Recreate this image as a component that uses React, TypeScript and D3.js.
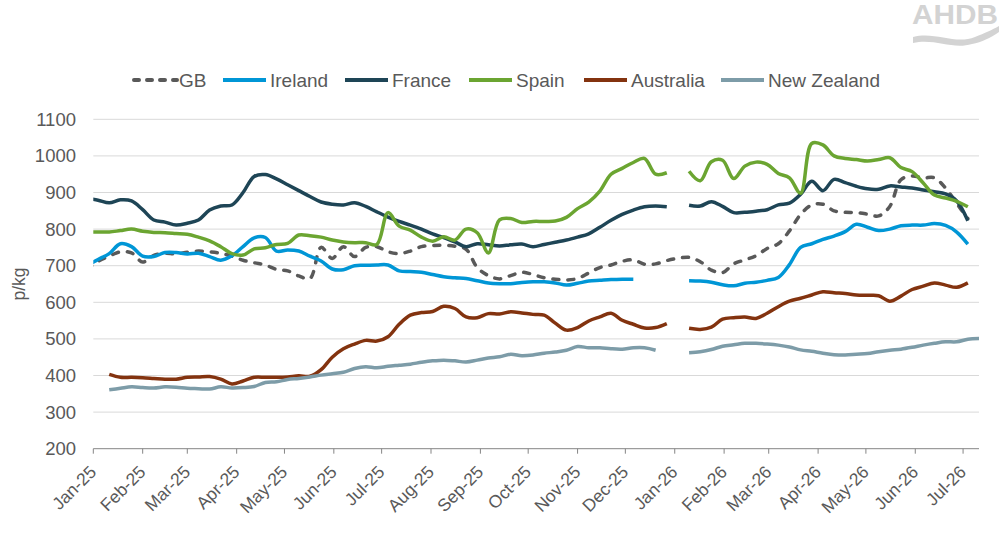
import React from "react";
import * as d3 from "d3";

// weekly price series, p/kg; index 0 is the week of 28 Dec 2024, null = no quote
const gb = [
  690, 712, 726, 738, 735, 710, 728, 734, 732, 737, 740, 738, 734, 726, 715, 708, 702, 690, 686, 672,
  665, 750, 720, 752, 725, 750, 752, 738, 733, 740, 752, 755, 756, 753, 745, 695, 673, 664, 673, 682,
  676, 667, 663, 661, 665, 680, 695, 702, 712, 716, 704, 705, 714, 720, 723, 711, 688, 681, 705, 716,
  727, 747, 760, 795, 840, 866, 868, 850, 846, 845, 841, 836, 862, 935, 945, 940, 940, 912, 870, 829,
  null,
];
const ireland = [
  700, 717, 733, 760, 752, 726, 725, 736, 736, 732, 734, 725, 715, 727, 752, 776, 777, 740, 743, 740,
  726, 713, 691, 689, 700, 701, 702, 702, 686, 684, 682, 676, 670, 667, 665, 659, 653, 651, 651, 654,
  656, 656, 653, 647, 652, 658, 660, 662, 663, 663, null, null, null, null, 659, 658, 655, 648, 645, 652,
  655, 660, 668, 703, 750, 760, 772, 781, 793, 813, 805, 796, 800, 809, 811, 811, 815, 810, 792, 759,
  null,
];
const france = [
  884, 879, 872, 880, 877, 853, 825, 819, 811, 816, 825, 852, 863, 866, 900, 944, 949, 937, 921, 905,
  889, 874, 868, 866, 872, 862, 847, 833, 821, 811, 800, 787, 777, 765, 752, 760, 757, 754, 757, 759,
  752, 758, 764, 770, 778, 787, 805, 824, 840, 852, 861, 863, 861, null, 865, 863, 875, 862, 845, 846,
  849, 853, 866, 871, 895, 931, 905, 936, 927, 917, 910, 909, 918, 915, 912, 907, 902, 896, 877, 823,
  null,
];
const spain = [
  792, 792, 792, 796, 800, 794, 791, 790, 788, 786, 778, 768, 752, 733, 729, 746, 749, 758, 761, 784,
  782, 778, 770, 765, 763, 763, 758, 845, 808, 797, 778, 767, 779, 770, 800, 790, 735, 825, 829, 818,
  821, 821, 822, 832, 856, 874, 904, 950, 966, 982, 993, 950, 954, null, 958, 932, 984, 988, 938, 972,
  983, 977, 952, 940, 898, 1034, 1030, 1000, 993, 990, 986, 990, 995, 968, 957, 926, 893, 885, 876, 861,
  null,
];
const australia = [
  null, null, 403, 395, 395, 394, 392, 390, 390, 395, 396, 397, 390, 377, 385, 395, 395, 395, 396, 399,
  398, 416, 450, 473, 486, 496, 494, 506, 540, 565, 572, 575, 589, 583, 560, 558, 569, 568, 574, 571,
  567, 565, 543, 524, 531, 549, 560, 570, 551, 540, 530, 531, 542, null, 529, 526, 532, 554, 558, 560,
  556, 570, 588, 603, 611, 620, 629, 626, 624, 620, 619, 618, 603, 617, 635, 644, 653, 647, 641, 653,
  null,
];
const newZealand = [
  null, null, 361, 365, 369, 367, 366, 369, 368, 365, 364, 363, 369, 366, 367, 370, 381, 383, 389, 392,
  396, 401, 405, 409, 419, 424, 421, 425, 428, 431, 436, 440, 442, 440, 437, 442, 448, 451, 458, 454,
  456, 461, 464, 469, 479, 476, 476, 473, 472, 476, 476, 469, null, null, 462, 465, 471, 480, 484, 488,
  488, 486, 483, 478, 470, 466, 461, 457, 456, 458, 460, 465, 469, 472, 477, 483, 488, 492, 492, 499,
  501,
];

const yTicks = [200, 300, 400, 500, 600, 700, 800, 900, 1000, 1100];

const weeks = d3.range(-1, 80).map((i) => d3.timeDay.offset(new Date(2025, 0, 4), 7 * i));
const monthTicks = d3.timeMonth.range(new Date(2025, 0, 1), new Date(2026, 6, 2));

const series = [
  { name: "GB", values: gb, color: "#595959", dash: "6 9" },
  { name: "Ireland", values: ireland, color: "#0096d6", dash: null },
  { name: "France", values: france, color: "#1e4556", dash: null },
  { name: "Spain", values: spain, color: "#6ba531", dash: null },
  { name: "Australia", values: australia, color: "#83330f", dash: null },
  { name: "New Zealand", values: newZealand, color: "#7d9ca8", dash: null },
];

const W = 1004;
const H = 557;
const left = 93.3;
const right = 979;
const top = 119.3;
const bottom = 448.7;
const legendX = [132, 223, 345, 469, 584, 721];
const textColor = "#595959";
const font = "'Liberation Sans', Arial, sans-serif";

const App = () => {
  const x = d3
    .scaleTime()
    .domain([new Date(2025, 0, 1), new Date(2026, 6, 11)])
    .range([left, right]);
  const y = d3.scaleLinear().domain([200, 1100]).range([bottom, top]);
  const fmt = d3.timeFormat("%b-%y");

  const line = d3
    .line<number | null>()
    .defined((v) => v != null)
    .x((_, i) => x(weeks[i]))
    .y((v) => y(v as number))
    .curve(d3.curveCatmullRom.alpha(0.5));

  return (
    <svg
      width={W}
      height={H}
      style={{ position: "absolute", left: 0, top: 0, background: "#fff" }}
      fontFamily={font}
    >
      <defs>
        <clipPath id="plot">
          <rect x={left} y={90} width={right - left} height={380} />
        </clipPath>
      </defs>

      {/* logo */}
      <g fill="#d3d3d3">
        <text
          x={912}
          y={24}
          fontSize={27}
          fontWeight="bold"
          textLength={86}
          lengthAdjust="spacingAndGlyphs"
        >
          AHDB
        </text>
        <path d="M913,37 C935,31 955,45 975,37 C985,33 992,30 999,26 L999,32 C990,38 982,42 972,44 C952,50 935,38 913,43 Z" />
      </g>

      {/* legend */}
      {series.map((s, i) => (
        <g key={s.name} transform={`translate(${legendX[i]},80)`}>
          <line
            x1={0}
            x2={43}
            stroke={s.color}
            strokeWidth={4}
            strokeDasharray={s.dash ? "5 8" : undefined}
            strokeLinecap={s.dash ? "round" : "butt"}
            transform={s.dash ? "translate(2,0)" : undefined}
          />
          <text x={47} dy="0.35em" fontSize={19} fill={textColor}>
            {s.name}
          </text>
        </g>
      ))}

      {/* grid */}
      {yTicks.slice(1).map((t) => (
        <line key={t} x1={left} x2={right} y1={y(t)} y2={y(t)} stroke="#d9d9d9" strokeWidth={1} />
      ))}
      {yTicks.map((t) => (
        <text key={t} x={76} y={y(t)} dy="0.35em" textAnchor="end" fontSize={18.5} fill={textColor}>
          {t}
        </text>
      ))}
      <text
        transform="translate(25,284) rotate(-90)"
        textAnchor="middle"
        fontSize={17.5}
        fill={textColor}
      >
        p/kg
      </text>

      {/* x axis */}
      <line x1={left} x2={right} y1={bottom} y2={bottom} stroke="#858585" strokeWidth={1} />
      {monthTicks.map((d) => (
        <g key={+d}>
          <line x1={x(d)} x2={x(d)} y1={bottom} y2={bottom + 5} stroke="#858585" />
          <text
            transform={`translate(${x(d) + 4},473) rotate(-45)`}
            textAnchor="end"
            fontSize={17.5}
            fill={textColor}
          >
            {fmt(d)}
          </text>
        </g>
      ))}

      {/* series */}
      <g clipPath="url(#plot)" fill="none">
        {series.map((s) => (
          <path
            key={s.name}
            d={line(s.values) || ""}
            stroke={s.color}
            strokeWidth={3.5}
            strokeDasharray={s.dash || undefined}
            strokeLinecap={s.dash ? "round" : "butt"}
            strokeLinejoin="round"
          />
        ))}
      </g>
    </svg>
  );
};

export default App;
